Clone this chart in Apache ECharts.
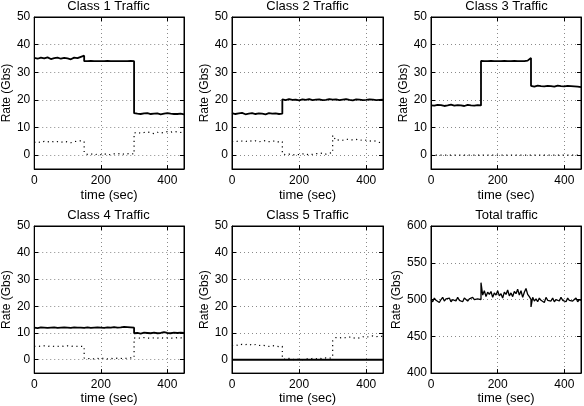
<!DOCTYPE html>
<html>
<head>
<meta charset="utf-8">
<script src="https://cdn.jsdelivr.net/npm/echarts@6/dist/echarts.min.js"></script>
<style>
html,body{margin:0;padding:0;background:#fff;}
#c{width:584px;height:406px;}
</style>
</head>
<body>
<div id="c"></div>
<script>
// time samples (sec); 150 and 300 repeated to draw the rate steps
var times = [0,10,20,30,40,50,60,70,80,90,100,110,120,130,140,150,
             150,160,170,180,190,200,210,220,230,240,250,260,270,280,290,300,
             300,310,320,330,340,350,360,370,380,390,400,410,420,430,440,450];

var class1Rate = [35.2,34.9,35.3,35.0,35.4,34.8,35.1,35.3,34.9,35.2,35.0,34.7,35.3,35.1,35.6,36.0,
                  34.0,34.0,34.1,34.0,34.0,34.0,34.0,34.1,34.0,34.0,34.0,34.0,34.0,34.0,34.1,34.0,
                  15.2,15.0,14.9,15.1,15.2,14.9,15.0,15.1,14.8,15.0,15.2,15.0,14.9,14.9,15.0,14.8];
var class1Other = [4.6,4.9,4.5,5.0,4.8,5.1,4.7,4.9,4.6,5.0,4.8,4.5,4.9,5.1,5.2,5.0,
                   0.8,0.3,0.5,0.1,0.4,0.2,0.6,0.0,0.3,0.5,0.4,0.7,0.3,0.5,0.6,0.4,
                   8.0,8.3,7.9,8.2,8.4,8.1,7.8,8.3,8.0,8.2,8.5,8.3,8.6,8.4,8.2,8.5];

var class2Rate = [15.2,14.9,15.1,15.3,14.8,15.0,15.2,14.9,15.1,15.0,14.8,15.2,15.0,15.1,14.9,15.0,
                  20.2,19.9,20.3,20.0,20.1,19.8,20.2,20.0,20.3,19.9,20.1,20.2,19.9,20.0,20.3,20.1,
                  20.0,20.2,19.9,20.1,20.3,20.0,19.8,20.2,20.1,19.9,20.0,20.2,20.1,19.9,20.0,20.1];
var class2Other = [5.0,4.8,5.2,5.1,4.9,5.3,5.0,5.2,4.8,5.1,5.3,4.9,5.0,5.2,4.7,4.9,
                   0.5,0.2,0.4,0.0,0.3,0.2,0.5,0.1,0.4,0.3,0.6,0.5,0.8,0.4,0.7,0.9,
                   7.2,5.3,5.6,5.4,5.8,5.6,5.5,5.7,5.3,5.6,5.4,5.1,5.3,5.0,4.6,4.8];

var class3Rate = [18.0,17.9,18.2,18.1,17.8,18.0,18.3,17.9,18.1,18.0,17.8,18.2,18.0,17.9,18.1,18.0,
                  34.1,34.0,34.0,34.1,34.0,34.0,34.0,34.1,34.0,34.0,34.1,34.0,34.0,34.0,34.2,35.2,
                  25.1,24.8,25.2,25.0,24.9,25.1,25.0,24.8,25.2,25.0,24.9,25.1,25.0,24.9,24.8,24.6];
var class3Other = [0,0,0,0,0,0,0,0,0,0,0,0,0,0,0,0,
                   0,0,0,0,0,0,0,0,0,0,0,0,0,0,0,0,
                   0,0,0,0,0,0,0,0,0,0,0,0,0,0,0,0];

var class4Rate = [12.0,11.8,12.1,12.0,11.9,12.0,12.1,11.9,12.0,12.1,12.0,11.9,12.1,12.0,12.0,11.9,
                  12.0,12.1,11.9,12.0,12.1,12.0,11.9,12.1,12.0,12.2,12.0,12.1,12.3,12.2,12.1,12.0,
                  9.9,10.0,9.8,10.1,10.0,9.9,10.1,9.9,10.0,10.3,10.0,9.9,10.1,10.0,10.1,10.0];
var class4Other = [5.0,5.1,5.0,5.2,5.0,5.1,5.0,5.0,5.1,5.0,5.2,5.0,5.1,5.0,5.0,4.9,
                   0.6,0.4,0.5,0.3,0.5,0.4,0.6,0.3,0.5,0.4,0.6,0.5,0.4,0.6,0.7,0.8,
                   8.1,8.2,8.0,8.3,8.1,8.0,8.2,8.1,8.3,8.0,8.2,8.1,8.0,8.3,8.2,8.1];

var class5Rate = [0,0,0,0,0,0,0,0,0,0,0,0,0,0,0,0,
                  0,0,0,0,0,0,0,0,0,0,0,0,0,0,0,0,
                  0,0,0,0,0,0,0,0,0,0,0,0,0,0,0,0];
var class5Other = [5.2,5.6,5.3,5.8,5.6,5.9,5.4,5.7,5.3,5.5,5.2,5.0,5.3,5.1,4.9,5.0,
                   0.4,0.1,0.5,0.2,-0.1,0.3,0.0,0.4,0.2,0.5,0.3,0.6,0.4,0.7,0.5,1.0,
                   7.0,8.3,8.1,8.4,8.2,8.5,8.0,8.3,8.1,8.6,8.4,8.7,8.9,8.6,8.8,8.7];

var totalTimes = [0,5,10,15,20,25,30,35,40,45,50,55,60,65,70,75,80,85,90,95,100,105,110,115,120,125,130,135,140,145,150,
                  150,155,160,165,170,175,180,185,190,195,200,205,210,215,220,225,230,235,240,245,250,255,260,265,270,275,280,285,290,295,300,
                  300,305,310,315,320,325,330,335,340,345,350,355,360,365,370,375,380,385,390,395,400,405,410,415,420,425,430,435,440,445,450];
var totalRate = [500,497,502,499,501,496,500,503,498,501,499,502,497,500,501,498,503,499,500,497,502,500,498,501,499,503,500,498,501,502,500,
                 523,506,512,504,510,507,511,503,509,506,512,505,508,502,510,507,513,505,509,504,511,508,514,506,512,503,510,515,507,504,500,
                 490,503,498,501,497,502,499,500,496,503,499,501,498,502,497,500,501,498,503,499,500,497,502,499,501,498,500,502,497,500,499];

var titles = ['Class 1 Traffic','Class 2 Traffic','Class 3 Traffic','Class 4 Traffic','Class 5 Traffic','Total traffic'];
var yTicksClass = {min: -5, max: 50};
var yTicksTotal = {min: 400, max: 600, interval: 50};
var xTicks = {min: 0, max: 450, interval: 200};

function pairs(xs, ys){ var o=[]; for(var i=0;i<xs.length;i++) o.push([xs[i], ys[i]]); return o; }

var panels = [
  {left:33, top:17, solid:class1Rate, dotted:class1Other},
  {left:232, top:17, solid:class2Rate, dotted:class2Other},
  {left:431, top:17, solid:class3Rate, dotted:class3Other},
  {left:33, top:226, solid:class4Rate, dotted:class4Other},
  {left:232, top:226, solid:class5Rate, dotted:class5Other},
  {left:431, top:226, total:true}
];
var W = 151, H = 152;
var font = 'Liberation Sans, Arial, Helvetica, sans-serif';
var grids=[], xAxes=[], yAxes=[], series=[], titleOpts=[], xTop=[], yRight=[];
var gridLine = {show:true, lineStyle:{color:'#8a8a8a', type:[1,3], width:1}};
panels.forEach(function(p, i){
  grids.push({left:p.left, top:p.top, width:W, height:H, show:true, borderColor:'#000', borderWidth:1, backgroundColor:'transparent'});
  titleOpts.push({text:titles[i], left:p.left + W/2, top:p.top - 17, textAlign:'center', padding:0,
    textStyle:{fontSize:13, fontWeight:'normal', color:'#000', fontFamily:font}});
  xAxes.push({gridIndex:i, type:'value', min:xTicks.min, max:xTicks.max, interval:xTicks.interval,
    name:'time (sec)', nameLocation:'middle', nameGap: i<3 ? 20 : 17,
    nameTextStyle:{fontSize:13, color:'#000', fontFamily:font},
    axisLine:{onZero:false, lineStyle:{color:'#000', width:1}},
    axisTick:{inside:true, length:4, lineStyle:{color:'#000'}},
    axisLabel:{fontSize:12, color:'#000', fontFamily:font, margin:6,
      formatter:function(v){ return v===450 ? '' : String(v); }},
    splitLine:gridLine});
  xTop.push({gridIndex:i, type:'value', position:'top', min:xTicks.min, max:xTicks.max, interval:xTicks.interval,
    axisLine:{onZero:false, lineStyle:{color:'#000', width:1}},
    axisTick:{inside:true, length:4, lineStyle:{color:'#000'}},
    axisLabel:{show:false}, splitLine:{show:false}});
  var yt = p.total ? yTicksTotal : yTicksClass;
  var ya = {gridIndex:i, type:'value', min:yt.min, max:yt.max,
    name:'Rate (Gbs)', nameLocation:'middle', nameGap: p.total ? 27 : 21,
    nameTextStyle:{fontSize:12, color:'#000', fontFamily:font},
    axisLine:{show:true, onZero:false, lineStyle:{color:'#000', width:1}},
    axisTick:{show:true, inside:true, length:4, lineStyle:{color:'#000'}},
    axisLabel:{fontSize:12, color:'#000', fontFamily:font, margin:4,
      formatter:function(v){ return v===-5 ? '' : String(v); }},
    splitLine:gridLine};
  var yr = {gridIndex:i, type:'value', position:'right', min:yt.min, max:yt.max,
    axisLine:{show:true, onZero:false, lineStyle:{color:'#000', width:1}},
    axisTick:{show:true, inside:true, length:4, lineStyle:{color:'#000'}},
    axisLabel:{show:false}, splitLine:{show:false}};
  if (yt.interval) { ya.interval = yt.interval; yr.interval = yt.interval; }
  else { ya.splitNumber = 5; yr.splitNumber = 5; }
  yAxes.push(ya);
  yRight.push(yr);
  if (p.total) {
    series.push({type:'line', xAxisIndex:i, yAxisIndex:i, data:pairs(totalTimes, totalRate), symbol:'none',
      lineStyle:{color:'#000', width:1.3}, animation:false});
  } else {
    series.push({type:'line', xAxisIndex:i, yAxisIndex:i, data:pairs(times, p.dotted), symbol:'none',
      lineStyle:{color:'#000', width:1.2, type:[1.2,3.5]}, animation:false});
    series.push({type:'line', xAxisIndex:i, yAxisIndex:i, data:pairs(times, p.solid), symbol:'none',
      lineStyle:{color:'#000', width:1.8}, animation:false});
  }
});

var chart = echarts.init(document.getElementById('c'), null, {renderer:'canvas'});
chart.setOption({
  backgroundColor:'#fff',
  animation:false,
  title:titleOpts,
  grid:grids,
  xAxis:xAxes.concat(xTop),
  yAxis:yAxes.concat(yRight),
  series:series
});
</script>
</body>
</html>
